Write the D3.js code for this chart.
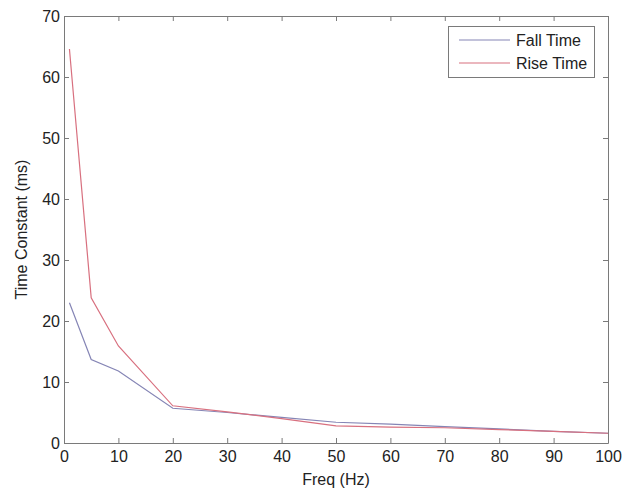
<!DOCTYPE html>
<html><head><meta charset="utf-8">
<script src="https://cdn.jsdelivr.net/npm/d3@7"></script>
<style>body{margin:0;background:#fff}svg{display:block}text{font-family:"Liberation Sans",Arial,sans-serif;fill:#222}</style>
</head><body>
<svg id="c" width="635" height="491"></svg>
<script>
const freq = [1, 5, 10, 20, 30, 40, 50, 60, 70, 80, 90, 100];
const fallTime = [23.0, 13.7, 11.8, 5.7, 5.0, 4.2, 3.4, 3.1, 2.7, 2.3, 1.9, 1.6];
const riseTime = [64.6, 23.8, 15.9, 6.1, 5.1, 4.0, 2.8, 2.6, 2.5, 2.2, 1.9, 1.6];
const xTicks = [0, 10, 20, 30, 40, 50, 60, 70, 80, 90, 100];
const yTicks = [0, 10, 20, 30, 40, 50, 60, 70];
const seriesNames = ["Fall Time", "Rise Time"];
const seriesColors = ["#8585b5", "#d8707f"];

const svg = d3.select("#c");
const L = 64, R = 608, T = 16, B = 443;
const x = d3.scaleLinear().domain([0, 100]).range([L, R]);
const y = d3.scaleLinear().domain([0, 70]).range([B, T]);
const axisColor = "#7a7a7a";
const fs = "16px";

function styleAxis(g, showLabels) {
  g.select(".domain").attr("stroke", axisColor);
  g.selectAll(".tick line").attr("stroke", axisColor);
  g.selectAll(".tick text").style("font-size", fs).attr("fill", "#222");
  if (!showLabels) g.selectAll(".tick text").remove();
}
svg.append("g").attr("transform", `translate(0,${B})`)
  .call(d3.axisBottom(x).tickValues(xTicks).tickSizeInner(-5).tickSizeOuter(0).tickPadding(8))
  .call(g => styleAxis(g, true));
svg.append("g").attr("transform", `translate(0,${T})`)
  .call(d3.axisTop(x).tickValues(xTicks).tickSizeInner(-5).tickSizeOuter(0))
  .call(g => styleAxis(g, false));
svg.append("g").attr("transform", `translate(${L},0)`)
  .call(d3.axisLeft(y).tickValues(yTicks).tickSizeInner(-5).tickSizeOuter(0).tickPadding(4))
  .call(g => styleAxis(g, true));
svg.append("g").attr("transform", `translate(${R},0)`)
  .call(d3.axisRight(y).tickValues(yTicks).tickSizeInner(-5).tickSizeOuter(0))
  .call(g => styleAxis(g, false));

const line = d3.line().x(d => x(d[0])).y(d => y(d[1]));
[fallTime, riseTime].forEach((vals, i) => {
  svg.append("path").datum(freq.map((f, j) => [f, vals[j]]))
    .attr("d", line).attr("fill", "none")
    .attr("stroke", seriesColors[i]).attr("stroke-width", 1.2);
});

// legend
const lg = svg.append("g");
lg.append("rect").attr("x", 448.5).attr("y", 26.5).attr("width", 146).attr("height", 51)
  .attr("fill", "#fff").attr("stroke", axisColor);
seriesNames.forEach((n, i) => {
  const yy = 40 + i * 23;
  lg.append("line").attr("x1", 459).attr("x2", 510).attr("y1", yy).attr("y2", yy)
    .attr("stroke", seriesColors[i]).attr("stroke-width", 1.2);
  lg.append("text").attr("x", 516).attr("y", yy + 6).style("font-size", fs).text(n);
});

svg.append("text").attr("x", (L + R) / 2).attr("y", 485).attr("text-anchor", "middle")
  .style("font-size", fs).text("Freq (Hz)");
svg.append("text").attr("transform", `translate(27,${(T + B) / 2}) rotate(-90)`)
  .attr("text-anchor", "middle").style("font-size", fs).text("Time Constant (ms)");
</script>
</body></html>
